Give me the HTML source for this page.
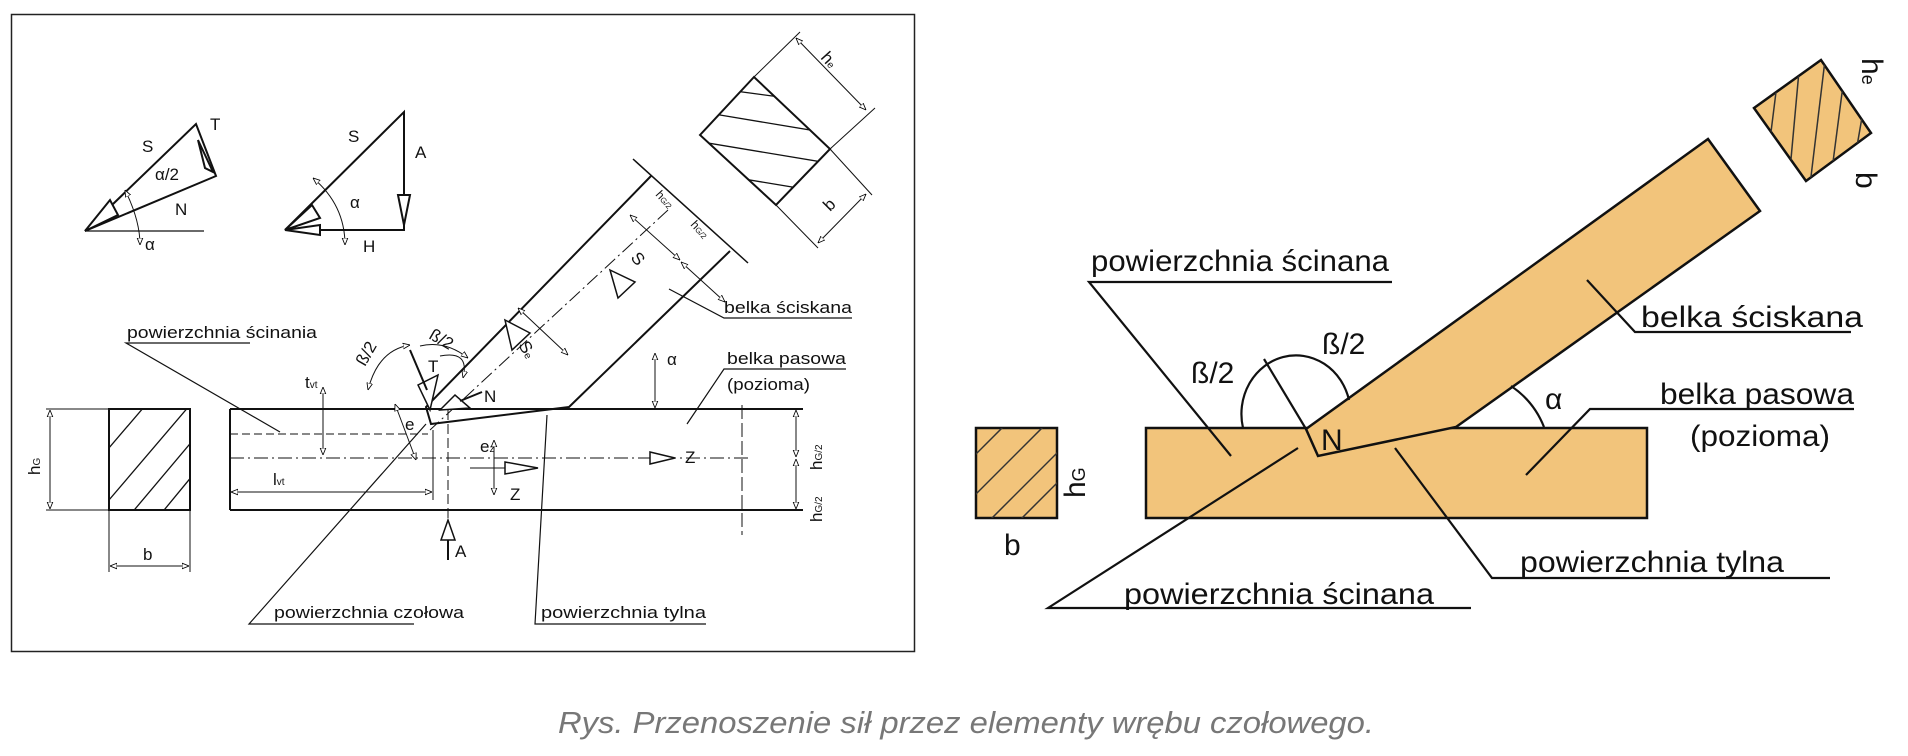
<!DOCTYPE html>
<html><head><meta charset="utf-8"><style>
html,body{margin:0;padding:0;background:#fff;width:1908px;height:756px;overflow:hidden}
svg{display:block}
text{font-family:"Liberation Sans",sans-serif}
</style></head><body>
<svg width="1908" height="756" viewBox="0 0 1908 756" xmlns="http://www.w3.org/2000/svg">
<defs>
<marker id="oa" viewBox="0 0 10 10" refX="10" refY="5" markerWidth="7" markerHeight="7" orient="auto-start-reverse"><path d="M0,1 L10,5 L0,9 Z" fill="#fff" stroke="#000" stroke-width="1.2"/></marker>
<clipPath id="c1"><rect x="109" y="409" width="81" height="101"/></clipPath>
<clipPath id="c2"><rect x="976" y="428" width="81" height="90"/></clipPath>
<clipPath id="c3"><polygon points="1754,108 1821,60 1871,133 1806,181"/></clipPath>
<clipPath id="c4"><polygon points="700,135 754,77 830,149 776,205"/></clipPath>
</defs>

<rect x="11.5" y="14.5" width="903" height="637" fill="#fff" stroke="#222" stroke-width="1.5"/>
<g stroke="#111" fill="none" stroke-width="2">
<rect x="109" y="409" width="81" height="101"/>
<g clip-path="url(#c1)" stroke-width="1.3">
<line x1="90" y1="470" x2="150" y2="400"/><line x1="109" y1="500" x2="190" y2="405"/><line x1="130" y1="515" x2="210" y2="420"/><line x1="160" y1="515" x2="230" y2="430"/>
</g>
<g stroke-width="1"><line x1="46" y1="409" x2="109" y2="409"/><line x1="46" y1="510" x2="109" y2="510"/>
<line x1="50" y1="410" x2="50" y2="509" marker-start="url(#oa)" marker-end="url(#oa)"/>
<line x1="109" y1="510" x2="109" y2="572"/><line x1="190" y1="510" x2="190" y2="572"/>
<line x1="110" y1="566" x2="189" y2="566" marker-start="url(#oa)" marker-end="url(#oa)"/></g>
<line x1="230" y1="409" x2="803" y2="409"/><line x1="230" y1="510" x2="803" y2="510"/><line x1="230" y1="409" x2="230" y2="510"/>
<line x1="230" y1="434" x2="428" y2="434" stroke-width="1" stroke-dasharray="8,4"/>
<line x1="230" y1="458" x2="750" y2="458" stroke-width="1" stroke-dasharray="14,4,2,4"/>
<line x1="742" y1="405" x2="742" y2="535" stroke-width="1" stroke-dasharray="14,4"/>
<line x1="448" y1="410" x2="448" y2="535" stroke-width="1" stroke-dasharray="10,4"/>
<line x1="796" y1="410" x2="796" y2="457" stroke-width="1" marker-start="url(#oa)" marker-end="url(#oa)"/>
<line x1="796" y1="459" x2="796" y2="509" stroke-width="1" marker-start="url(#oa)" marker-end="url(#oa)"/>
<polyline points="651,176 426,407 431,424 569,407 730,251"/>
<line x1="633" y1="159" x2="748" y2="263" stroke-width="1.5"/>
<line x1="668" y1="210" x2="430" y2="430" stroke-width="1" stroke-dasharray="14,4,2,4"/>
<line x1="630" y1="215" x2="680" y2="260" stroke-width="1" marker-start="url(#oa)" marker-end="url(#oa)"/>
<line x1="681" y1="262" x2="725" y2="302" stroke-width="1" marker-start="url(#oa)" marker-end="url(#oa)"/>
<path d="M610,270 L635,282 L618,298 Z" fill="#fff" stroke-width="1.5"/>
<path d="M505,320 L530,333 L512,350 Z" fill="#fff" stroke-width="1.5"/>
<line x1="518" y1="308" x2="568" y2="355" stroke-width="1" marker-start="url(#oa)" marker-end="url(#oa)"/>
<polygon points="700,135 754,77 830,149 776,205"/>
<g clip-path="url(#c4)" stroke-width="1.3"><line x1="690" y1="110" x2="840" y2="135"/><line x1="690" y1="140" x2="840" y2="165"/><line x1="690" y1="170" x2="840" y2="195"/><line x1="690" y1="85" x2="840" y2="105"/></g>
<g stroke-width="1"><line x1="754" y1="77" x2="800" y2="32"/><line x1="830" y1="149" x2="875" y2="108"/><line x1="776" y1="205" x2="818" y2="248"/><line x1="830" y1="149" x2="872" y2="195"/>
<line x1="796" y1="38" x2="866" y2="110" marker-start="url(#oa)" marker-end="url(#oa)"/>
<line x1="866" y1="194" x2="818" y2="243" marker-start="url(#oa)" marker-end="url(#oa)"/></g>
<path d="M418,385 L438,375 L430,410 Z" fill="#fff" stroke-width="1.5"/>
<line x1="410" y1="350" x2="427" y2="390"/>
<path d="M440,410 L455,395 L470,408 Z" fill="#fff" stroke-width="1.5"/>
<line x1="460" y1="401" x2="482" y2="392"/>
<path d="M440,356 Q470,350 463,378" stroke-width="1" marker-end="url(#oa)"/>
<path d="M368,390 Q378,350 410,345" stroke-width="1" marker-start="url(#oa)" marker-end="url(#oa)"/>
<path d="M420,346 Q445,340 468,358" stroke-width="1" marker-end="url(#oa)"/>
<line x1="323" y1="387" x2="323" y2="455" stroke-width="1" marker-start="url(#oa)" marker-end="url(#oa)"/>
<line x1="395" y1="404" x2="416" y2="460" stroke-width="1" marker-start="url(#oa)" marker-end="url(#oa)"/>
<line x1="231" y1="492" x2="432" y2="492" stroke-width="1" marker-start="url(#oa)" marker-end="url(#oa)"/>
<line x1="433" y1="430" x2="433" y2="500" stroke-width="1"/>
<line x1="494" y1="440" x2="494" y2="495" stroke-width="1" marker-start="url(#oa)" marker-end="url(#oa)"/>
<path d="M505,462 L538,468 L505,474 Z" fill="#fff" stroke-width="1.5"/><line x1="470" y1="468" x2="505" y2="468" stroke-width="1"/>
<path d="M650,452 L675,458 L650,464 Z" fill="#fff" stroke-width="1.5"/>
<path d="M441,520 L448,540 L455,520 Z" transform="rotate(180 448 530)" fill="#fff" stroke-width="1.5"/><line x1="448" y1="540" x2="448" y2="560"/>
<line x1="655" y1="353" x2="655" y2="408" stroke-width="1" marker-start="url(#oa)" marker-end="url(#oa)"/>
<polyline points="85,231 196,124 216,176 85,231"/><line x1="85" y1="231" x2="204" y2="231" stroke-width="1.2"/>
<path d="M85,231 L110,200 L118,215 Z" fill="#fff"/><path d="M198,140 L213,172 L205,168 Z" fill="#fff"/>
<path d="M125,190 Q140,220 140,245" stroke-width="1" marker-start="url(#oa)" marker-end="url(#oa)"/>
<polyline points="285,230 404,112 404,230 285,230"/>
<path d="M285,230 L312,205 L320,218 Z" fill="#fff"/><path d="M285,230 L320,225 L320,235 Z" fill="#fff"/><path d="M398,195 L404,225 L410,195 Z" fill="#fff"/>
<path d="M313,178 Q345,205 345,245" stroke-width="1" marker-start="url(#oa)" marker-end="url(#oa)"/>
<g stroke-width="1.2"><polyline points="280,432 126,343 250,343"/><polyline points="426,424 249,624 414,624"/><polyline points="547,415 535,624 706,624"/><polyline points="669,289 724,318 852,318"/><polyline points="687,424 724,369 846,369"/></g>
</g>
<g font-size="17" fill="#111">
<text x="127" y="338" textLength="190" lengthAdjust="spacingAndGlyphs">powierzchnia ścinania</text>
<text x="274" y="618" textLength="190" lengthAdjust="spacingAndGlyphs">powierzchnia czołowa</text>
<text x="541" y="618" textLength="165" lengthAdjust="spacingAndGlyphs">powierzchnia tylna</text>
<text x="724" y="313" textLength="128" lengthAdjust="spacingAndGlyphs">belka ściskana</text>
<text x="727" y="364" textLength="119" lengthAdjust="spacingAndGlyphs">belka pasowa</text>
<text x="727" y="390" textLength="83" lengthAdjust="spacingAndGlyphs">(pozioma)</text>
<text x="143" y="560">b</text>
<text x="40" y="475" transform="rotate(-90 40 475)">h<tspan font-size="10">G</tspan></text>
<text x="142" y="152">S</text><text x="210" y="130">T</text><text x="155" y="180">α/2</text><text x="175" y="215">N</text><text x="145" y="250">α</text>
<text x="348" y="142">S</text><text x="415" y="158">A</text><text x="350" y="208">α</text><text x="363" y="252">H</text>
<text x="428" y="372">T</text><text x="484" y="402">N</text><text x="365" y="367" transform="rotate(-60 365 367)">ß/2</text><text x="428" y="338" transform="rotate(30 428 338)">ß/2</text>
<text x="667" y="365">α</text><text x="630" y="258" transform="rotate(50 630 258)">S</text><text x="518" y="345" transform="rotate(60 518 345)">S<tspan font-size="10">e</tspan></text>
<text x="305" y="388">t<tspan font-size="10">vt</tspan></text><text x="273" y="485">l<tspan font-size="10">vt</tspan></text><text x="405" y="430">e</text>
<text x="480" y="452">e<tspan font-size="10">z</tspan></text><text x="510" y="500">Z</text><text x="685" y="463">Z</text><text x="455" y="557">A</text>
<text x="822" y="470" transform="rotate(-90 822 470)">h<tspan font-size="10">G/2</tspan></text><text x="822" y="522" transform="rotate(-90 822 522)">h<tspan font-size="10">G/2</tspan></text>
<text x="820" y="58" transform="rotate(48 820 58)">h<tspan font-size="10">e</tspan></text><text x="830" y="212" transform="rotate(-45 830 212)">b</text>
<text x="655" y="195" transform="rotate(48 655 195)" font-size="12">h<tspan font-size="8">G/2</tspan></text>
<text x="690" y="225" transform="rotate(48 690 225)" font-size="12">h<tspan font-size="8">G/2</tspan></text>
</g>

<g stroke="#111" stroke-width="2.5" fill="#f2c47b">
<rect x="976" y="428" width="81" height="90"/>
<rect x="1146" y="428" width="501" height="90"/>
<polygon points="1306,429 1708,139 1760,211 1456,427 1318,456"/>
<polygon points="1754,108 1821,60 1871,133 1806,181"/>
</g>
<g stroke="#333" stroke-width="1.5" fill="none">
<g clip-path="url(#c2)"><line x1="960" y1="470" x2="1020" y2="410"/><line x1="970" y1="500" x2="1050" y2="420"/><line x1="985" y1="525" x2="1075" y2="435"/><line x1="1010" y1="530" x2="1080" y2="460"/></g>
<g clip-path="url(#c3)"><line x1="1770" y1="140" x2="1780" y2="60"/><line x1="1790" y1="170" x2="1800" y2="60"/><line x1="1810" y1="185" x2="1825" y2="60"/><line x1="1830" y1="185" x2="1845" y2="70"/><line x1="1852" y1="175" x2="1865" y2="100"/></g>
</g>
<g stroke="#111" stroke-width="2.2" fill="none">
<path d="M1243,428 A54,58 0 0 1 1349,400"/>
<line x1="1264" y1="359" x2="1306" y2="429"/>
<path d="M1544,427 A88,88 0 0 0 1511,386"/>
<polyline points="1231,456 1089,282 1392,282"/>
<polyline points="1587,280 1635,332 1851,332"/>
<polyline points="1526,475 1590,409 1854,409"/>
<polyline points="1395,448 1492,578 1830,578"/>
<polyline points="1298,448 1048,608 1471,608"/>
</g>
<g font-size="30" fill="#111">
<text x="1091" y="271" textLength="298" lengthAdjust="spacingAndGlyphs">powierzchnia ścinana</text>
<text x="1641" y="327" textLength="222" lengthAdjust="spacingAndGlyphs">belka ściskana</text>
<text x="1660" y="404" textLength="194" lengthAdjust="spacingAndGlyphs">belka pasowa</text>
<text x="1690" y="446" textLength="140" lengthAdjust="spacingAndGlyphs">(pozioma)</text>
<text x="1520" y="572" textLength="264" lengthAdjust="spacingAndGlyphs">powierzchnia tylna</text>
<text x="1124" y="604" textLength="310" lengthAdjust="spacingAndGlyphs">powierzchnia ścinana</text>
<text x="1191" y="383">ß/2</text><text x="1322" y="354">ß/2</text>
<text x="1545" y="409">α</text><text x="1321" y="450">N</text>
<text x="1004" y="555">b</text>
<text x="1085" y="498" transform="rotate(-90 1085 498)">h<tspan font-size="18">G</tspan></text>
<text x="1862" y="58" transform="rotate(90 1862 58)">h<tspan font-size="18">e</tspan></text>
<text x="1856" y="172" transform="rotate(90 1856 172)">b</text>
</g>
<text x="558" y="733" font-size="31" font-style="italic" fill="#777" textLength="816" lengthAdjust="spacingAndGlyphs">Rys. Przenoszenie sił przez elementy wrębu czołowego.</text>
</svg>
</body></html>
